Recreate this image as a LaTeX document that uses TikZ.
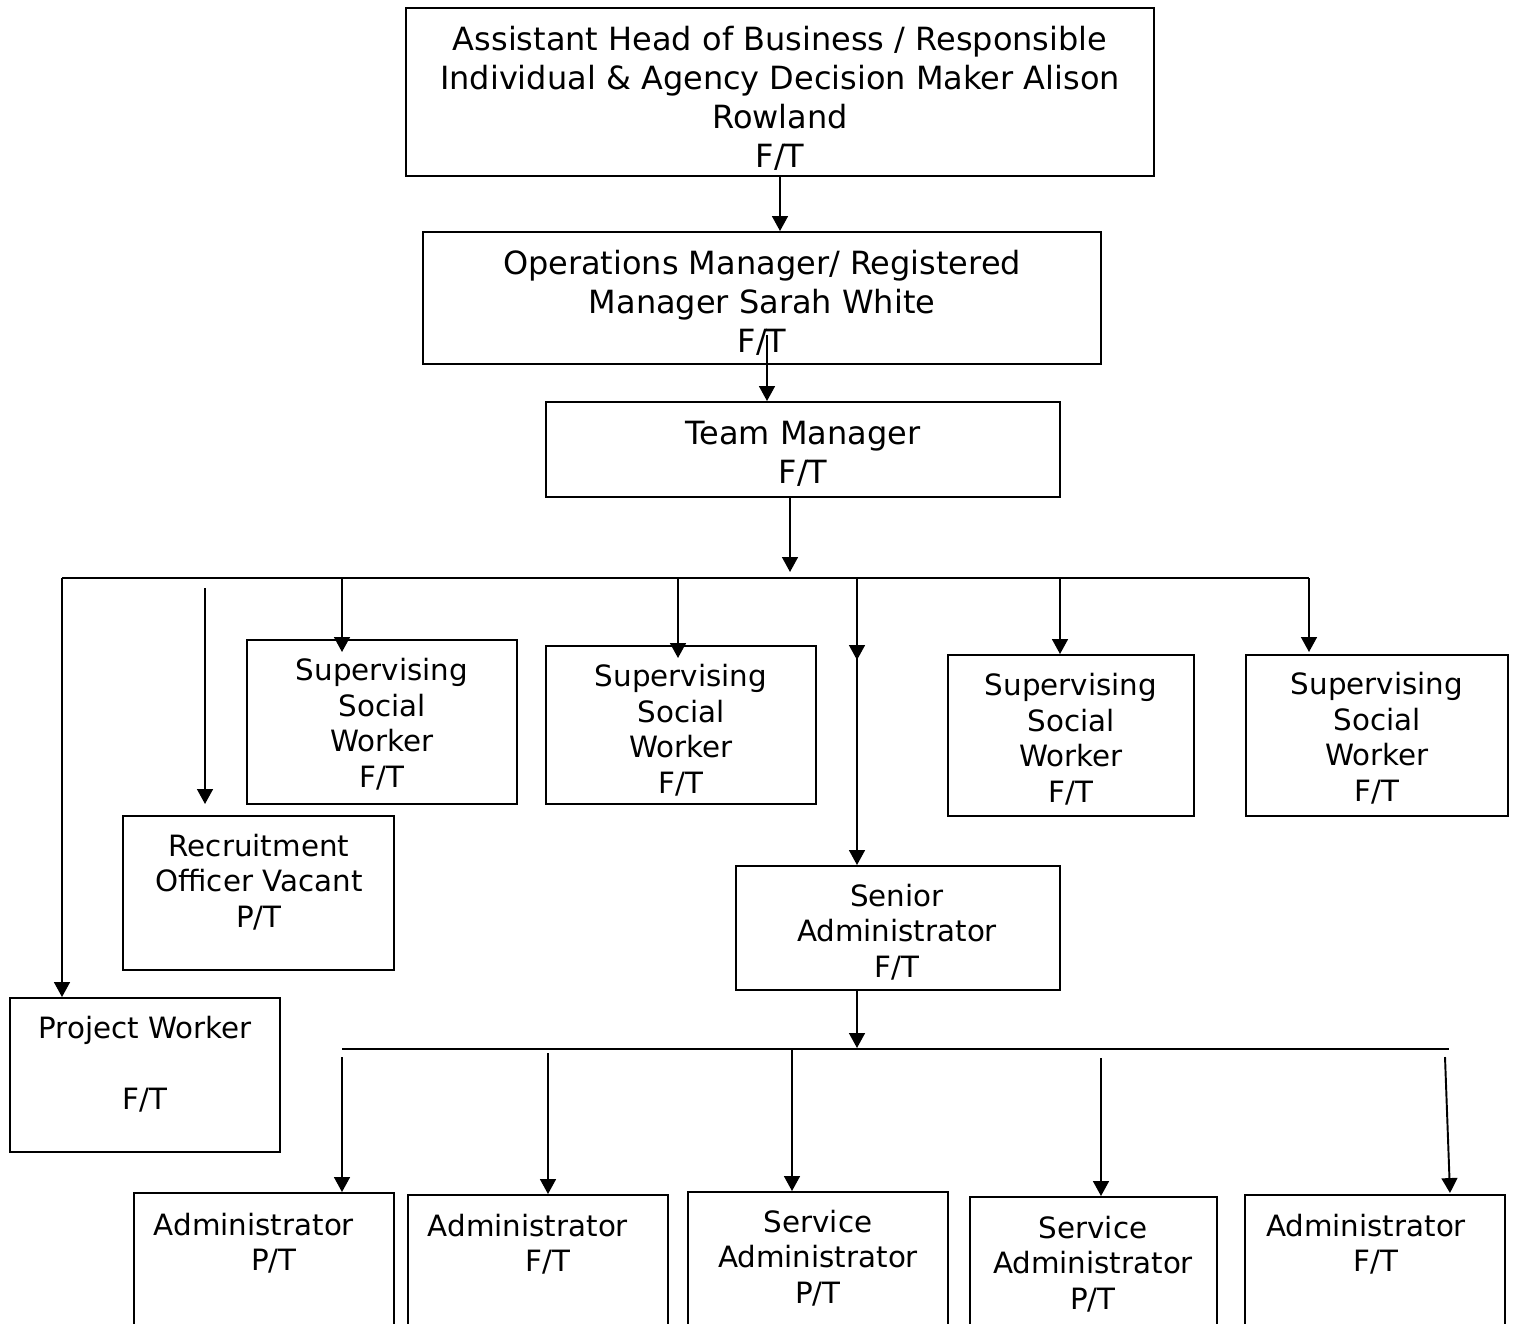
\documentclass[tikz,border=0pt]{standalone}
\usepackage{fontspec}
\setmainfont{DejaVu Sans}
\usetikzlibrary{arrows.meta,fit}
\begin{document}
\begin{tikzpicture}[x=0.02cm,y=-0.02cm,
  box/.style={draw,line width=1.1pt,inner sep=0pt,rectangle},
  big/.style={align=center,inner sep=0pt,font=\fontsize{18.2pt}{22.2pt}\selectfont},
  small/.style={align=center,inner sep=0pt,font=\fontsize{16.7pt}{20.2pt}\selectfont},
  arr/.style={line width=1.1pt,-{Triangle[length=8.5pt,width=9pt]}},
  ln/.style={line width=1.1pt}]
\clip (0,0) rectangle (1515,1323);
\fill[white] (0,0) rectangle (1515,1323);
% boxes
\node[box,fit={(406,8) (1154,176)}] (b1) {};
\node[box,fit={(423,232) (1101,364)}] (b2) {};
\node[box,fit={(546,402) (1060,497)}] (b3) {};
\node[box,fit={(247,640) (517,804)}] (s1) {};
\node[box,fit={(546,646) (816,804)}] (s2) {};
\node[box,fit={(948,655) (1194,816)}] (s3) {};
\node[box,fit={(1246,655) (1508,816)}] (s4) {};
\node[box,fit={(123,816) (394,970)}] (rec) {};
\node[box,fit={(10,998) (280,1152)}] (pw) {};
\node[box,fit={(736,866) (1060,990)}] (sa) {};
\node[box,fit={(134,1193) (394,1360)}] (a1) {};
\node[box,fit={(408,1195) (668,1360)}] (a2) {};
\node[box,fit={(688,1192) (948,1360)}] (a3) {};
\node[box,fit={(970,1197) (1217,1360)}] (a4) {};
\node[box,fit={(1245,1195) (1505,1360)}] (a5) {};
% texts
\node[big] (t1) at (780,98) {Assistant Head of Business / Responsible\\Individual \& Agency Decision Maker Alison\\Rowland\\F/T};
\node[big] (t2) at (762,303) {Operations Manager/ Registered\\Manager Sarah White\\F/T};
\node[big] (t3) at (803,454) {Team Manager\\F/T};
\node[small] (ts1) at (382,724) {Supervising\\Social\\Worker\\F/T};
\node[small] (ts2) at (681,730) {Supervising\\Social\\Worker\\F/T};
\node[small] (ts3) at (1071,739) {Supervising\\Social\\Worker\\F/T};
\node[small] (ts4) at (1377,738) {Supervising\\Social\\Worker\\F/T};
\node[small] (trec) at (259,882) {Recruitment\\Officer Vacant\\P/T};
\node[small] (tpw) at (145,1064) {Project Worker\\[20.2pt]F/T};
\node[small] (tsa) at (897,932) {Senior\\Administrator\\F/T};
\node[small] (ta1) at (254,1243) {Administrator\\\hspace*{0.8cm}P/T};
\node[small] (ta2) at (528,1244) {Administrator\\\hspace*{0.8cm}F/T};
\node[small] (ta3) at (818,1258) {Service\\Administrator\\P/T};
\node[small] (ta4) at (1093,1264) {Service\\Administrator\\P/T};
\node[small] (ta5) at (1366,1244) {Administrator\\\hspace*{0.4cm}F/T};
% helper coordinates
\coordinate (x780) at (780,0);
\coordinate (x790) at (790,0);
\coordinate (o2) at (767,335);
\coordinate (bus1) at (790,572);
\coordinate (busL) at (62,578);
\coordinate (busR) at (1309,578);
\coordinate (r205) at (205,588);
\coordinate (m857) at (857,660);
\coordinate (m857b) at (857,655);
\coordinate (bus2) at (857,1048);
\coordinate (bus2L) at (342,1049);
\coordinate (bus2R) at (1449,1049);
\coordinate (l342) at (342,1057);
\coordinate (l548) at (548,1053);
\coordinate (l1101) at (1101,1058);
\coordinate (l1445) at (1445,1057);
\coordinate (e1450) at (1450,1193);
% top connectors
\draw[arr] (b1.south -| x780) -- (b2.north -| x780);
\draw[arr] (o2) -- (b3.north -| o2);
\draw[arr] (b3.south -| x790) -- (bus1);
\draw[ln] (busL) -- (busR);
% branches
\draw[arr] (busL) -- (pw.north -| busL);
\draw[arr] (r205) -- (205,804);
\draw[arr] (342,578) -- (342,652);
\draw[arr] (678,578) -- (678,658);
\draw[arr] (857,578) -- (m857);
\draw[arr] (m857b) -- (sa.north -| m857b);
\draw[arr] (1060,578) -- (s3.north -| 1060,0);
\draw[arr] (busR) -- (1309,652);
% lower
\draw[arr] (sa.south -| bus2) -- (bus2);
\draw[ln] (bus2L) -- (bus2R);
\draw[arr] (l342) -- (a1.north -| l342);
\draw[arr] (l548) -- (a2.north -| l548);
\draw[arr] (792,1049) -- (a3.north -| 792,0);
\draw[arr] (l1101) -- (a4.north -| l1101);
\draw[arr] (l1445) -- (e1450);
\end{tikzpicture}
\end{document}
